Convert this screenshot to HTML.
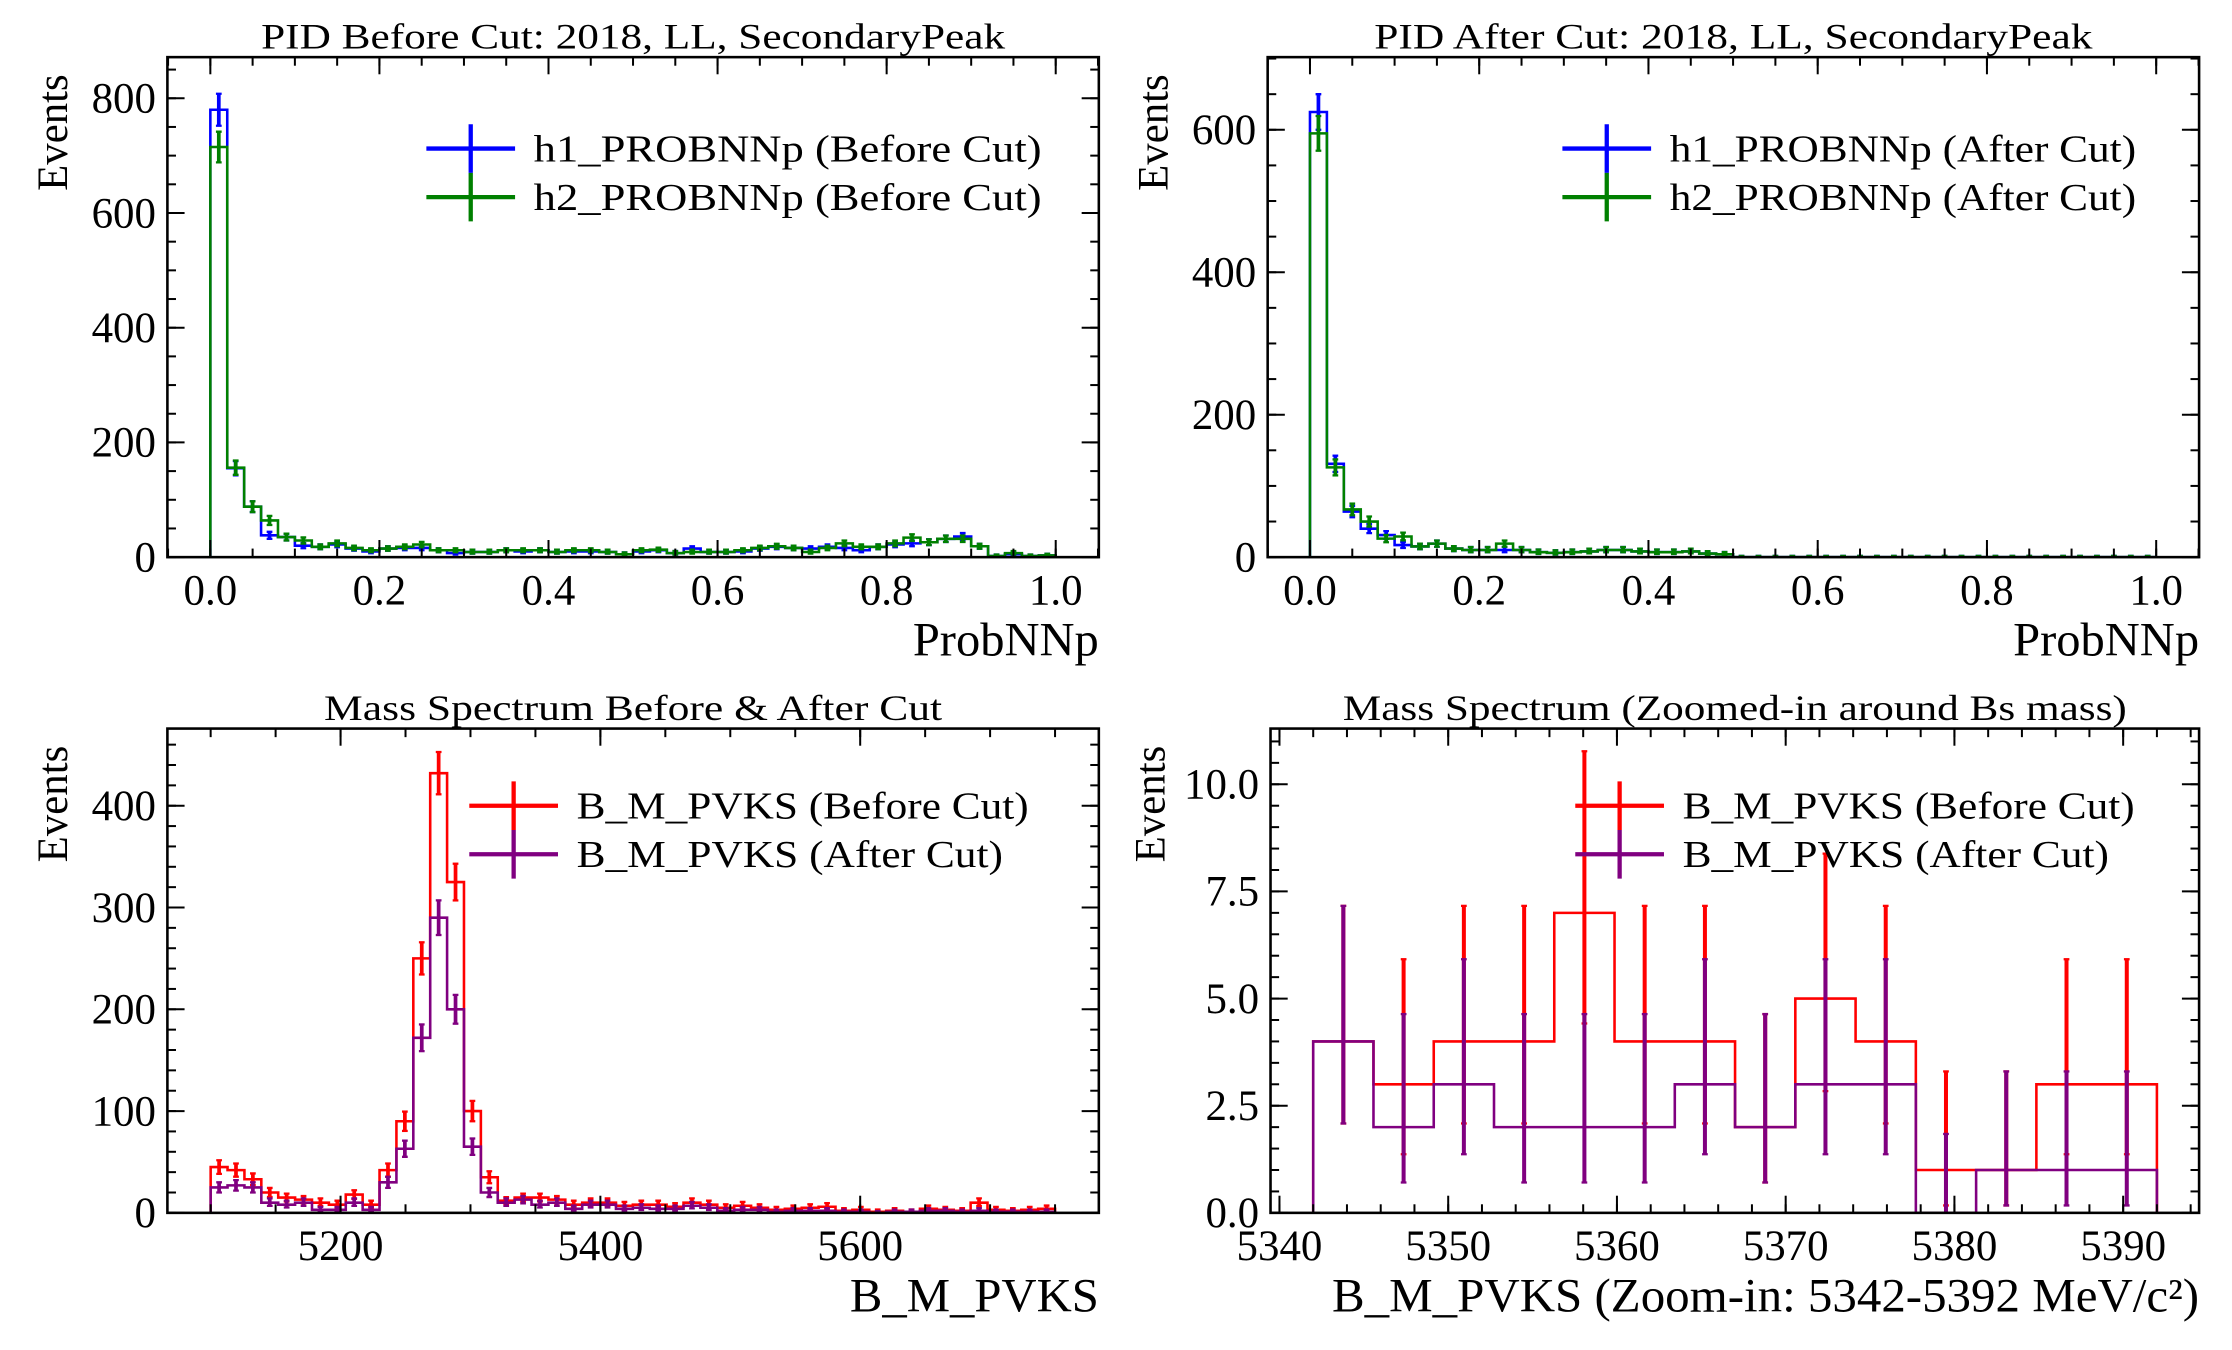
<!DOCTYPE html>
<html><head><meta charset="utf-8">
<style>
html,body{margin:0;padding:0;background:#fff;}
svg{display:block;}
text{font-family:"Liberation Serif","DejaVu Serif",serif;fill:#000;}
</style></head>
<body>
<svg id="fig" width="2232" height="1350" viewBox="0 0 1560 945" preserveAspectRatio="none" xmlns="http://www.w3.org/2000/svg">
<rect x="0" y="0" width="1560" height="945" fill="#fff"/>
</svg>
<script>
// ---- data ----
const tlRange = [0, 1];
const tlH1 = [780,155,88,38,35,20,18,22,15,10,15,16,16,12,7,9,9,12,10,12,9,10,10,9,5,10,12,7,15,9,9,10,15,18,16,15,18,16,12,18,22,24,26,32,36,19,2,5,2,3];
const tlH2 = [715,156,88,64,35,29,18,24,16,12,15,18,22,12,12,9,9,12,12,12,9,12,12,9,5,12,13,7,9,9,9,12,16,19,16,9,16,24,18,18,24,34,26,32,32,19,2,7,2,3];
const trRange = [0, 1];
const trH1 = [625,131,64,40,31,17,15,19,12,10,10,10,10,7,6,7,8,10,10,8,7,7,8,5,4,0,0,0,0,0,0,0,0,0,0,0,0,0,0,0,0,0,0,0,0,0,0,0,0,0];
const trH2 = [595,126,67,50,26,29,15,19,12,10,10,19,10,7,6,7,8,10,10,8,7,7,8,5,4,0,0,0,0,0,0,0,0,0,0,0,0,0,0,0,0,0,0,0,0,0,0,0,0,0];
const blRange = [5100, 5750];
const blBefore = [45,42,33,20,15,13,10,8,18,8,42,90,250,432,325,100,35,12,15,15,13,8,10,10,7,8,8,6,10,8,5,7,5,3,4,5,6,2,3,1,2,1,4,3,2,10,3,2,3,4];
const blAfter = [25,27,25,10,8,10,3,3,10,3,30,63,172,290,200,65,20,10,13,8,10,4,8,8,4,5,4,4,7,5,2,3,3,1,2,2,2,1,1,0,1,1,2,2,1,2,1,1,1,1];
const brRange = [5342, 5392];
const brBefore = [4,3,4,4,7,4,4,2,5,4,1,1,3,3];
const brAfter = [4,2,3,2,2,2,3,2,3,3,0,1,1,1];
// Garwood interval constants for small counts
const garLow = [0,0.173,0.708,1.367,2.086,2.840,3.620,4.419,5.232,6.057,6.891];
const garUp = [1.841,3.300,4.638,5.918,7.163,8.382,9.584,10.77,11.95,13.11,14.27];

const NS = "http://www.w3.org/2000/svg";
const svg = document.getElementById('fig');
function el(tag, attrs, parent, txt){
  const e = document.createElementNS(NS, tag);
  for (const k in attrs) e.setAttribute(k, attrs[k]);
  if (txt !== undefined) e.textContent = txt;
  (parent || svg).appendChild(e);
  return e;
}
function errLo(n){ return n <= 10 ? garLow[n] : n - Math.sqrt(n); }
function errHi(n){ return n <= 10 ? garUp[n] : n + Math.sqrt(n); }

function panel(cfg){
  const g = el('g', {});
  
  
  const [X0, X1, Y0, Y1] = cfg.frame;
  const sx = v => X0 + (v - cfg.xlim[0]) / (cfg.xlim[1] - cfg.xlim[0]) * (X1 - X0);
  const sy = v => Y1 - (v - cfg.ylim[0]) / (cfg.ylim[1] - cfg.ylim[0]) * (Y1 - Y0);
  const clip = 'clip-' + cfg.name;
  const cp = el('clipPath', {id: clip}, g);
  el('rect', {x: X0, y: Y0, width: X1 - X0, height: Y1 - Y0}, cp);
  const plotG = el('g', {'clip-path': 'url(#' + clip + ')'}, g);
  cfg.series.forEach(s => {
    const vals = s.values, n = vals.length;
    const w = (cfg.range[1] - cfg.range[0]) / n;
    let d = 'M' + sx(cfg.range[0]) + ',' + sy(0);
    for (let i = 0; i < n; i++) {
      const a = cfg.range[0] + i * w;
      d += ' L' + sx(a) + ',' + sy(vals[i]) + ' L' + sx(a + w) + ',' + sy(vals[i]);
    }
    d += ' L' + sx(cfg.range[1]) + ',' + sy(0);
    const p = el('path', {d: d, fill: 'none', stroke: s.color, 'stroke-width': 1.8}, plotG);
    
    
    for (let i = 0; i < n; i++) {
      const c = cfg.range[0] + (i + 0.5) * w;
      const eb = el('line', {x1: sx(c), x2: sx(c), y1: sy(errLo(vals[i])), y2: sy(errHi(vals[i])), stroke: s.color, 'stroke-width': cfg.ebw || 2.6}, plotG);
      
      
      [errLo(vals[i]), errHi(vals[i])].forEach(v => {
        el('line', {x1: sx(c) - 2, x2: sx(c) + 2, y1: sy(v), y2: sy(v), stroke: s.color, 'stroke-width': 1.6}, plotG);
      });
    }
  });
  const fr = el('rect', {x: X0, y: Y0, width: X1 - X0, height: Y1 - Y0, fill: 'none', stroke: '#000', 'stroke-width': 1.8}, g);
  
  
  const eps = 1e-9;
  function xt(step, len){
    const s0 = Math.ceil((cfg.xlim[0]) / step - eps);
    for (let k = s0; k * step <= cfg.xlim[1] + eps; k++) {
      const x = sx(k * step);
      el('line', {x1: x, x2: x, y1: Y1, y2: Y1 - len, stroke: '#000', 'stroke-width': 1.4}, g);
      el('line', {x1: x, x2: x, y1: Y0, y2: Y0 + len, stroke: '#000', 'stroke-width': 1.4}, g);
    }
  }
  function yt(step, len){
    for (let k = 0; k * step <= cfg.ylim[1] + eps; k++) {
      const y = sy(k * step);
      el('line', {x1: X0, x2: X0 + len, y1: y, y2: y, stroke: '#000', 'stroke-width': 1.4}, g);
      el('line', {x1: X1, x2: X1 - len, y1: y, y2: y, stroke: '#000', 'stroke-width': 1.4}, g);
    }
  }
  xt(cfg.xminor, 6); xt(cfg.xmajor, 12); yt(cfg.yminor, 6); yt(cfg.ymajor, 12);
  cfg.xlabels.forEach(v => {
    const t = el('text', {x: sx(v), y: Y1 + 33, 'font-size': 30, 'text-anchor': 'middle'}, g, v.toFixed(cfg.xdec));
    
    
  });
  cfg.ylabels.forEach(v => {
    const t = el('text', {x: X0 - 8, y: sy(v) + 10, 'font-size': 30, 'text-anchor': 'end'}, g, v.toFixed(cfg.ydec));
    
    
  });
  const tt = el('text', {x: (X0 + X1) / 2, y: Y0 - 6, 'font-size': 25, 'text-anchor': 'middle', textLength: cfg.titleLen, lengthAdjust: 'spacingAndGlyphs'}, g, cfg.title);
  
  
  const xl = el('text', {x: X1, y: Y1 + 69, 'font-size': 33, 'text-anchor': 'end', textLength: cfg.xlabelLen, lengthAdjust: 'spacingAndGlyphs'}, g, cfg.xlabel);
  
  
  const yl = el('text', {x: 0, y: 0, 'font-size': 30, 'text-anchor': 'end', transform: 'translate(' + cfg.ylabX + ',' + (Y0 + 12) + ') rotate(-90)'}, g, 'Events');
  
  
  cfg.series.forEach((s, i) => {
    const ly = cfg.leg[1] + i * 34;
    const lg = el('g', {}, g);
    
    
    el('line', {x1: cfg.leg[0], x2: cfg.leg[0] + 62, y1: ly, y2: ly, stroke: s.color, 'stroke-width': 3}, lg);
    el('line', {x1: cfg.leg[0] + 31, x2: cfg.leg[0] + 31, y1: ly - 17, y2: ly + 17, stroke: s.color, 'stroke-width': 3}, lg);
    el('text', {x: cfg.leg[0] + 75, y: ly + 9, 'font-size': 27, textLength: s.legLen, lengthAdjust: 'spacingAndGlyphs'}, lg, s.label);
  });
}

panel({name: 'pid-before-panel', frame: [117, 768, 40, 390], xlim: [-0.0508, 1.051], ylim: [0, 871.7], range: tlRange,
  xmajor: 0.2, xminor: 0.05, ymajor: 200, yminor: 50, xlabels: [0,0.2,0.4,0.6,0.8,1.0], xdec: 1, ylabels: [0,200,400,600,800], ydec: 0,
  title: 'PID Before Cut: 2018, LL, SecondaryPeak', titleLen: 520, xlabel: 'ProbNNp', xlabelLen: 130, ylabX: 47, leg: [298, 104],
  series: [{key: 'h1', values: tlH1, color: '#0000ff', label: 'h1_PROBNNp (Before Cut)', legLen: 355},
           {key: 'h2', values: tlH2, color: '#008000', label: 'h2_PROBNNp (Before Cut)', legLen: 355}]});
panel({name: 'pid-after-panel', frame: [886, 1537, 40, 390], xlim: [-0.050, 1.0507], ylim: [0, 702], range: trRange,
  xmajor: 0.2, xminor: 0.05, ymajor: 200, yminor: 50, xlabels: [0,0.2,0.4,0.6,0.8,1.0], xdec: 1, ylabels: [0,200,400,600], ydec: 0,
  title: 'PID After Cut: 2018, LL, SecondaryPeak', titleLen: 502, xlabel: 'ProbNNp', xlabelLen: 130, ylabX: 816, leg: [1092, 104],
  series: [{key: 'h1', values: trH1, color: '#0000ff', label: 'h1_PROBNNp (After Cut)', legLen: 326},
           {key: 'h2', values: trH2, color: '#008000', label: 'h2_PROBNNp (After Cut)', legLen: 326}]});
panel({name: 'mass-spectrum-panel', frame: [117, 768, 510, 849], xlim: [5066.7, 5783.7], ylim: [0, 475.8], range: blRange,
  xmajor: 200, xminor: 50, ymajor: 100, yminor: 20, xlabels: [5200,5400,5600], xdec: 0, ylabels: [0,100,200,300,400], ydec: 0,
  title: 'Mass Spectrum Before & After Cut', titleLen: 432, xlabel: 'B_M_PVKS', xlabelLen: 174, ylabX: 47, leg: [328, 564],
  series: [{key: 'before-cut', values: blBefore, color: '#ff0000', label: 'B_M_PVKS (Before Cut)', legLen: 316},
           {key: 'after-cut', values: blAfter, color: '#800080', label: 'B_M_PVKS (After Cut)', legLen: 298}]});
panel({name: 'mass-zoom-panel', frame: [888, 1537, 510, 849], xlim: [5339.47, 5394.5], ylim: [0, 11.3], range: brRange, ebw: 2.8,
  xmajor: 10, xminor: 2, ymajor: 2.5, yminor: 0.5, xlabels: [5340,5350,5360,5370,5380,5390], xdec: 0, ylabels: [0,2.5,5,7.5,10], ydec: 1,
  title: 'Mass Spectrum (Zoomed-in around Bs mass)', titleLen: 548, xlabel: 'B_M_PVKS (Zoom-in: 5342-5392 MeV/c²)', xlabelLen: 606, ylabX: 814, leg: [1101, 564],
  series: [{key: 'before-cut', values: brBefore, color: '#ff0000', label: 'B_M_PVKS (Before Cut)', legLen: 316},
           {key: 'after-cut', values: brAfter, color: '#800080', label: 'B_M_PVKS (After Cut)', legLen: 298}]});
</script>
</body></html>
